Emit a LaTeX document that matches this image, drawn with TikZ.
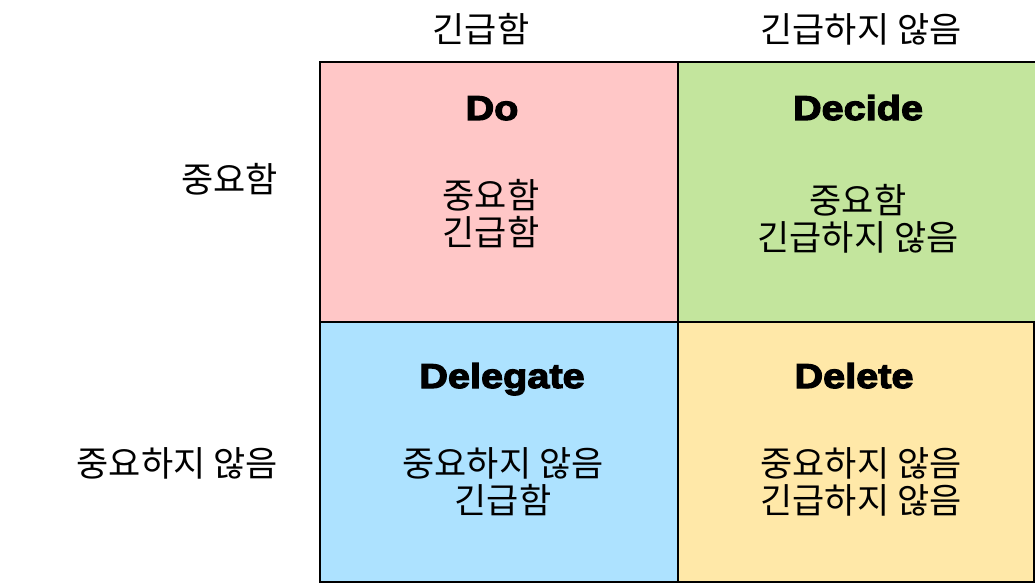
\documentclass[tikz,border=0pt]{standalone}
\usepackage{fontspec}
\setmainfont{Liberation Sans}
\newfontfamily\kr{Noto Sans CJK KR}
\newfontfamily\heavy[FakeBold=3.5,FakeStretch=1.15]{Liberation Sans Bold}
\definecolor{cpink}{HTML}{FFC7C7}
\definecolor{cgreen}{HTML}{C3E59D}
\definecolor{cblue}{HTML}{ADE2FF}
\definecolor{cyellow}{HTML}{FFE8A8}
\tikzset{
  cell/.style={draw=black, line width=2pt, minimum width=358pt, minimum height=260pt, anchor=north west, inner sep=0pt},
  ttl/.style={font=\heavy\fontsize{34.5}{38}\selectfont, inner sep=0pt, anchor=base},
  body/.style={font=\kr\fontsize{35}{37}\selectfont, align=center, inner sep=0pt},
  lbl/.style={font=\kr\fontsize{35}{37}\selectfont, inner sep=0pt}
}
\begin{document}
\begin{tikzpicture}[x=1pt,y=-1pt]
\useasboundingbox (0,0) rectangle (1035,583);
\node[cell, fill=cpink] (do) at (319,61) {};
\node[cell, fill=cgreen] (decide) at (677,61) {};
\node[cell, fill=cblue] (delegate) at (319,321) {};
\node[cell, fill=cyellow, minimum width=356pt] (delete) at (677,321) {};
\node[ttl] (tdo) at (492,120) {Do};
\node[ttl] (tdecide) at (858,120) {Decide};
\node[ttl] (tdelegate) at (502,388) {Delegate};
\node[ttl] (tdelete) at (854,388) {Delete};
\node[body] (bdo) at (491,214) {중요함\\긴급함};
\node[body] (bdecide) at (858,219) {중요함\\긴급하지 않음};
\node[body] (bdelegate) at (503,482) {중요하지 않음\\긴급함};
\node[body] (bdelete) at (861,482) {중요하지 않음\\긴급하지 않음};
\node[lbl] (turgent) at (481,29) {긴급함};
\node[lbl] (tnoturgent) at (861,29) {긴급하지 않음};
\node[lbl, anchor=east] (limp) at (278,179) {중요함};
\node[lbl, anchor=east] (lnotimp) at (278,463) {중요하지 않음};
\end{tikzpicture}
\end{document}
